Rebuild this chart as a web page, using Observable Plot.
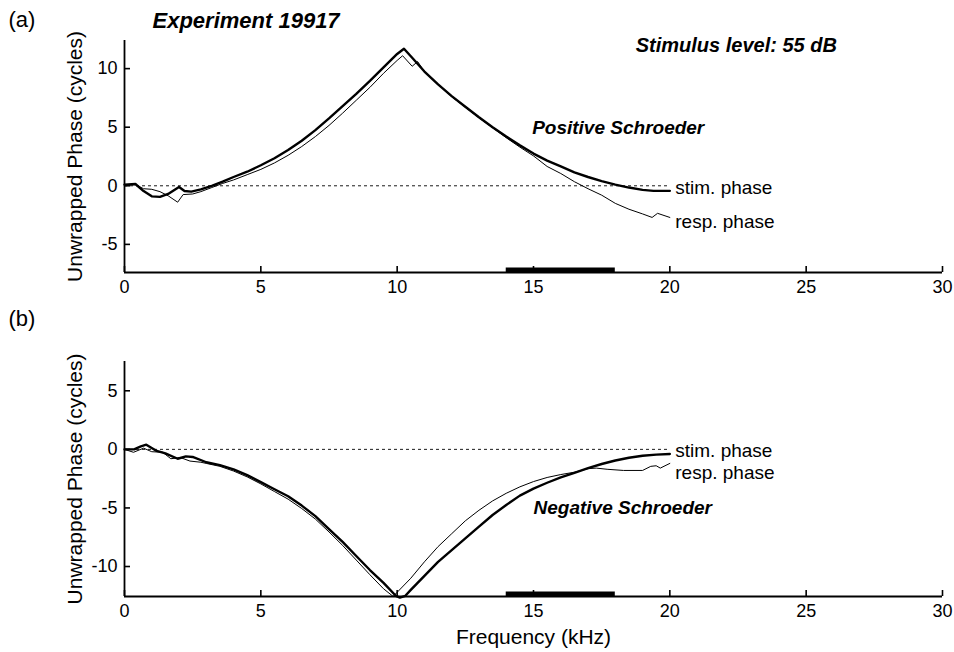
<!DOCTYPE html>
<html><head><meta charset="utf-8">
<script src="https://cdn.jsdelivr.net/npm/d3@7"></script>
<script src="https://cdn.jsdelivr.net/npm/@observablehq/plot@0.6"></script>
<style>
body{margin:0;background:#fff;}
#wrap{position:relative;width:954px;height:652px;background:#fff;}
#wrap svg{position:absolute;left:0;overflow:visible;}
</style></head><body><div id="wrap"></div>
<script>
// ---- data ----
const xTicks = [0, 5, 10, 15, 20, 25, 30];
const yTicksA = [-5, 0, 5, 10];
const yTicksB = [-10, -5, 0, 5];
const analysisBand = [14, 18]; // kHz, thick bar on the frequency axis

// (a) Positive Schroeder
const posStimFreq = [0, 0.4, 0.7, 1.0, 1.3, 1.6, 2.0, 2.2, 2.45, 2.8, 3.2, 3.6, 4.0, 4.5, 5.0, 5.5, 6.0, 6.5, 7.0, 7.5, 8.0, 8.5, 9.0, 9.5, 10.0, 10.25, 10.6, 11.0, 11.5, 12.0, 12.5, 13.0, 13.5, 14.0, 14.5, 15.0, 15.5, 16.0, 16.5, 17.0, 17.5, 18.0, 18.5, 19.0, 19.4, 20.0];
const posStimPhase = [0.1, 0.15, -0.45, -0.9, -0.95, -0.7, -0.1, -0.45, -0.5, -0.3, 0.0, 0.35, 0.75, 1.2, 1.75, 2.35, 3.05, 3.85, 4.75, 5.75, 6.8, 7.85, 8.95, 10.1, 11.25, 11.7, 10.8, 9.75, 8.65, 7.65, 6.75, 5.85, 5.0, 4.2, 3.45, 2.75, 2.15, 1.65, 1.15, 0.75, 0.4, 0.1, -0.15, -0.35, -0.43, -0.43];
const posRespFreq = [0, 0.4, 0.7, 1.0, 1.3, 1.6, 1.95, 2.15, 2.5, 2.8, 3.2, 3.6, 4.0, 4.5, 5.0, 5.5, 6.0, 6.5, 7.0, 7.5, 8.0, 8.5, 9.0, 9.5, 10.0, 10.2, 10.55, 10.75, 11.0, 11.5, 12.0, 12.5, 13.0, 13.5, 14.0, 14.5, 15.0, 15.5, 16.0, 16.5, 17.0, 17.5, 18.0, 18.5, 19.0, 19.35, 19.55, 20.0];
const posRespPhase = [0.1, 0.1, -0.25, -0.3, -0.5, -0.85, -1.4, -0.75, -0.7, -0.5, -0.15, 0.2, 0.5, 0.95, 1.4, 1.95, 2.6, 3.35, 4.2, 5.15, 6.2, 7.3, 8.4, 9.6, 10.7, 11.1, 10.2, 10.6, 9.75, 8.65, 7.6, 6.7, 5.8, 4.95, 4.1, 3.3, 2.55, 1.65, 1.05, 0.35, -0.25, -0.8, -1.5, -2.0, -2.4, -2.7, -2.35, -2.7];

// (b) Negative Schroeder
const negStimFreq = [0, 0.35, 0.6, 0.8, 1.15, 1.5, 1.95, 2.25, 2.5, 3.0, 3.5, 4.0, 4.5, 5.0, 5.5, 6.0, 6.5, 7.0, 7.5, 8.0, 8.5, 9.0, 9.5, 9.95, 10.1, 10.3, 10.5, 11.0, 11.5, 12.0, 12.5, 13.0, 13.5, 14.0, 14.5, 15.0, 15.5, 16.0, 16.5, 17.0, 17.5, 18.0, 18.5, 19.0, 19.5, 20.0];
const negStimPhase = [0, 0, 0.25, 0.4, -0.1, -0.35, -0.8, -0.6, -0.65, -1.1, -1.35, -1.7, -2.2, -2.8, -3.4, -4.0, -4.8, -5.7, -6.8, -7.9, -9.1, -10.3, -11.4, -12.5, -12.65, -12.5, -12.0, -10.8, -9.6, -8.6, -7.6, -6.6, -5.6, -4.75, -3.95, -3.35, -2.85, -2.4, -2.0, -1.6, -1.25, -0.95, -0.72, -0.55, -0.45, -0.4];
const negRespFreq = [0, 0.33, 0.7, 1.0, 1.4, 1.7, 2.05, 2.4, 2.8, 3.0, 3.5, 4.0, 4.5, 5.0, 5.5, 6.0, 6.5, 7.0, 7.5, 8.0, 8.5, 9.0, 9.5, 9.85, 10.0, 10.5, 11.0, 11.5, 12.0, 12.5, 13.0, 13.5, 14.0, 14.5, 15.0, 15.5, 16.0, 16.5, 17.0, 17.3, 17.7, 18.3, 19.0, 19.3, 19.5, 19.65, 20.0];
const negRespPhase = [0, -0.25, 0.1, -0.2, -0.25, -0.8, -0.7, -1.0, -1.1, -1.2, -1.45, -1.85, -2.35, -2.95, -3.6, -4.25, -5.05, -5.95, -7.05, -8.2, -9.45, -10.7, -11.9, -12.55, -12.2, -11.0, -9.6, -8.3, -7.2, -6.1, -5.2, -4.4, -3.75, -3.2, -2.75, -2.4, -2.15, -1.95, -1.65, -1.6, -1.7, -1.8, -1.8, -1.45, -1.4, -1.6, -1.2];

// ---- drawing ----
const FONT = '"Liberation Sans", Arial, Helvetica, sans-serif';
const pairs = (xs, ys) => xs.map((x, i) => ({f: x, p: ys[i]}));
const fmt = d => String(d); // plain hyphen-minus like the original

function panel(o) {
  const stim = pairs(o.stimF, o.stimP), resp = pairs(o.respF, o.respP);
  return Plot.plot({
    width: 954, height: o.height,
    marginLeft: 124, marginRight: 12, marginTop: o.marginTop, marginBottom: o.marginBottom,
    style: {fontFamily: FONT, fontSize: "18px", color: "#000", background: "transparent", overflow: "visible"},
    x: {domain: [0, 30], ticks: xTicks},
    y: {domain: o.yDomain, ticks: o.yTicks},
    marks: [
      Plot.ruleY([0], {x1: 0, x2: 20, stroke: "#000", strokeWidth: 0.9, strokeDasharray: "3,3"}),
      Plot.line(resp, {x: "f", y: "p", stroke: "#000", strokeWidth: 1}),
      Plot.line(stim, {x: "f", y: "p", stroke: "#000", strokeWidth: 2.4}),
      Plot.ruleX([0], {stroke: "#000", strokeWidth: 1.8}),
      Plot.ruleY([o.yDomain[0]], {stroke: "#000", strokeWidth: 1.8}),
      Plot.ruleY([o.yDomain[0]], {x1: analysisBand[0], x2: analysisBand[1], stroke: "#000", strokeWidth: 5, dy: -2.5}),
      Plot.axisX(xTicks, {tickSize: -6, tickPadding: 14, stroke: "#000", strokeWidth: 1.6, fill: "#000", label: null, fontSize: 18, tickFormat: fmt}),
      Plot.axisY(o.yTicks, {tickSize: -6, tickPadding: 13, stroke: "#000", strokeWidth: 1.6, fill: "#000", label: null, fontSize: 18, tickFormat: fmt}),
      Plot.text(["Unwrapped Phase (cycles)"], {frameAnchor: "left", rotate: -90, dx: -49, textAnchor: "middle", lineAnchor: "middle", fontSize: 21, fill: "#000"}),
      Plot.text(o.curveLabels, {x: "f", y: "p", text: "t", textAnchor: "start", fontSize: 19, fill: "#000"}),
      Plot.text(o.titles, {x: "f", y: "p", text: "t", textAnchor: "start", fontSize: 19, fontWeight: "bold", fontStyle: "italic", fill: "#000"}),
      ...o.extra
    ]
  });
}

const wrap = document.getElementById("wrap");

const panelA = panel({
  height: 296, marginTop: 40, marginBottom: 24,
  yDomain: [-7.4, 12.4], yTicks: yTicksA,
  stimF: posStimFreq, stimP: posStimPhase, respF: posRespFreq, respP: posRespPhase,
  curveLabels: [{f: 20.2, p: -0.15, t: "stim. phase"}, {f: 20.2, p: -3.1, t: "resp. phase"}],
  titles: [{f: 14.95, p: 4.95, t: "Positive Schroeder"}],
  extra: [
    Plot.text([{f: 18.75, p: 12.0, t: "Stimulus level: 55 dB"}], {x: "f", y: "p", text: "t", textAnchor: "start", fontSize: 20, fontWeight: "bold", fontStyle: "italic", fill: "#000"}),
    Plot.text(["(a)"], {frameAnchor: "top-left", dx: -116, dy: -21, textAnchor: "start", lineAnchor: "middle", fontSize: 22, fill: "#000"}),
    Plot.text(["Experiment 19917"], {frameAnchor: "top-left", dx: 28, dy: -20, textAnchor: "start", lineAnchor: "middle", fontSize: 22, fontWeight: "bold", fontStyle: "italic", fill: "#000"})
  ]
});
panelA.style.top = "0px";
wrap.appendChild(panelA);

const panelB = panel({
  height: 356, marginTop: 65, marginBottom: 56,
  yDomain: [-12.56, 7.5], yTicks: yTicksB,
  stimF: negStimFreq, stimP: negStimPhase, respF: negRespFreq, respP: negRespPhase,
  curveLabels: [{f: 20.2, p: -0.1, t: "stim. phase"}, {f: 20.2, p: -2.05, t: "resp. phase"}],
  titles: [{f: 15.0, p: -5.0, t: "Negative Schroeder"}],
  extra: [
    Plot.text(["(b)"], {frameAnchor: "top-left", dx: -116, dy: -43, textAnchor: "start", lineAnchor: "middle", fontSize: 22, fill: "#000"}),
    Plot.text(["Frequency (kHz)"], {frameAnchor: "bottom", dy: 41, textAnchor: "middle", lineAnchor: "middle", fontSize: 21, fill: "#000"})
  ]
});
panelB.style.top = "296px";
wrap.appendChild(panelB);
</script></body></html>
